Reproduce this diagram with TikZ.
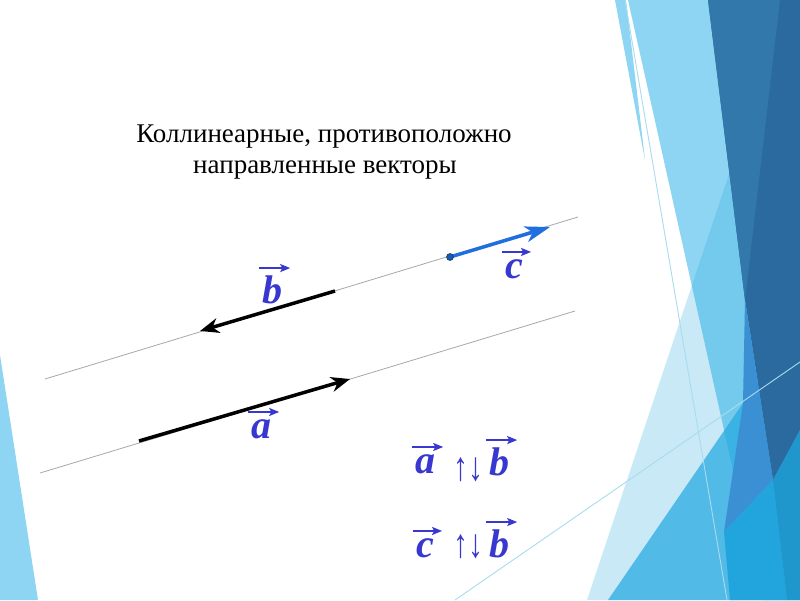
\documentclass[tikz,border=0pt]{standalone}
\usepackage{fontspec}
\setmainfont{Liberation Serif}
\usetikzlibrary{arrows.meta}

\definecolor{lblue}{HTML}{3838D0}
\definecolor{cblue}{HTML}{1F6FE0}
\definecolor{guidegray}{HTML}{A8A8A8}
\definecolor{sky}{HTML}{8DD5F2}
\definecolor{deep}{HTML}{2A6A9E}
\definecolor{deepl}{HTML}{3278AA}
\definecolor{midblue}{HTML}{29ABE2}
\definecolor{wedge}{HTML}{3A90D2}
\definecolor{bright}{HTML}{22A5DC}
\definecolor{strip}{HTML}{1F96CC}
\definecolor{thinline}{HTML}{A8DCEE}

\tikzset{
  vlab/.style={text=lblue, font=\fontsize{40}{44}\selectfont\bfseries\itshape, anchor=base, inner sep=0pt},
  overarr/.style={draw=lblue, line width=1.6pt, -{Stealth[length=10pt,width=8pt,inset=2pt]}},
  opp/.style={text=lblue, font=\fontsize{30}{34}\selectfont\bfseries, anchor=base, inner sep=0pt},
  title/.style={font=\fontsize{27}{31}\selectfont, anchor=base, inner sep=0pt},
  guide/.style={draw=guidegray, line width=0.8pt},
  vecline/.style={line width=3.5pt, -{Stealth[length=19pt,width=15pt,inset=6pt]}},
  cline/.style={draw=cblue, line width=3.5pt, -{Stealth[length=25pt,width=16pt,inset=7pt]}},
  dot/.style={circle, fill=cblue!80!black, draw=deep!60!black, line width=0.6pt, minimum size=7pt, inner sep=0pt},
}

% letter with an arrow over it: name, position, letter
\newcommand{\veclab}[3]{%
  \node[vlab] (#1) at (#2) {#3};
  \draw[overarr] ([shift={(-3pt,7pt)}]#1.north west) -- ([shift={(8pt,7pt)}]#1.north east);}

\begin{document}
\begin{tikzpicture}[x=1pt,y=-1pt]
\useasboundingbox (0,0) rectangle (800,600);
\fill[white] (0,0) rectangle (800,600);

% slide background
\begin{scope}
  \fill[sky] (0,355) -- (38,600) -- (0,600) -- cycle;
  \fill[sky] (615,0) -- (626,0) -- (645,160) -- cycle;
  \fill[sky] (628,0) -- (800,0) -- (800,600) -- (762,600) -- cycle;
  \fill[midblue, opacity=0.25] (787,0) -- (800,0) -- (800,600) -- (587,600) -- cycle;
  \fill[midblue, opacity=0.75] (608,600) -- (800,320) -- (800,600) -- cycle;
  \fill[deep] (708,0) -- (800,0) -- (800,430) -- (773,480) -- (745,300) -- cycle;
  \fill[deepl] (708,0) -- (780,0) -- (745,300) -- cycle;
  \fill[wedge] (745,300) -- (773,480) -- (724,532) -- (743,403) -- cycle;
  \fill[bright] (724,532) -- (773,480) -- (787,600) -- (730,600) -- cycle;
  \fill[strip] (773,480) -- (800,430) -- (800,600) -- (787,600) -- cycle;
  \draw[thinline, line width=0.9pt] (625,0) -- (727,600);
  \draw[thinline, line width=0.9pt] (455,600) -- (800,362);
\end{scope}

% title
\node[title] (t1) at (324,142) {Коллинеарные, противоположно};
\node[title] (t2) at (325,173) {направленные векторы};

% two parallel lines
\coordinate (u1) at (45,379);
\coordinate (u2) at (578,217);
\coordinate (l1) at (40,473);
\coordinate (l2) at (575,311);
\draw[guide] (u1) -- (u2);
\draw[guide] (l1) -- (l2);

% vectors
\coordinate (aS) at (139,441);
\coordinate (aE) at (350,379);
\coordinate (bS) at (335,291);
\coordinate (bE) at (200,331);
\coordinate (cS) at (450,257);
\coordinate (cE) at (550,227);
\draw[vecline] (aS) -- (aE);
\draw[vecline] (bS) -- (bE);
\draw[cline] (cS) -- (cE);
\node[dot] (cdot) at (cS) {};

\veclab{la}{261,438}{a}
\veclab{lb}{272,303}{b}
\veclab{lc}{514,278}{c}

% relations
\veclab{ra1}{425,473}{a}
\node[opp] (rs1) at (468,480) {\scalebox{1}[1.35]{↑↓}};
\veclab{rb1}{499,475}{b}
\veclab{rc2}{425,557}{c}
\node[opp] (rs2) at (468,557) {\scalebox{1}[1.35]{↑↓}};
\veclab{rb2}{499,557}{b}
\end{tikzpicture}
\end{document}
